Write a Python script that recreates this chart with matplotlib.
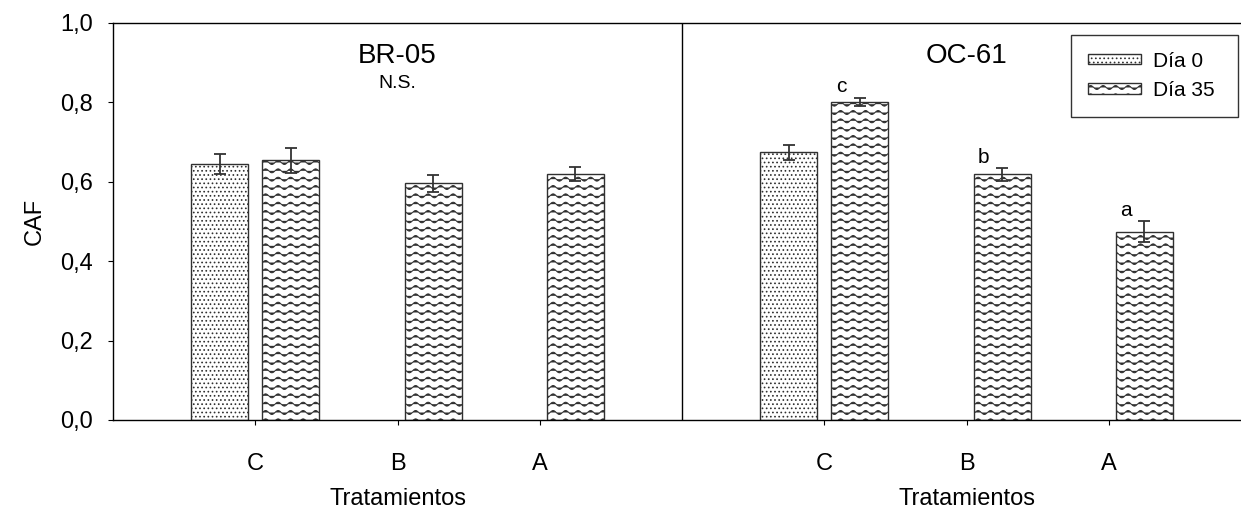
import warnings
import numpy as np
import matplotlib
matplotlib.use('Agg')
import matplotlib.pyplot as plt
import matplotlib.hatch as mhatch
from matplotlib.path import Path
from matplotlib.ticker import FuncFormatter
from matplotlib.transforms import blended_transform_factory

warnings.filterwarnings('ignore')

#~~~~~~~~~~~~~~~~~~~~~~~~~1. Data~~~~~~~~~~~~~~~~~~~~~~~~~~~~~~~~~~~~~~~~~~~~
tratamientos = ['C', 'B', 'A']
cultivares   = ['BR-05', 'OC-61']

br05_dia0    = [0.645]
br05_dia0_e  = [0.025]
br05_dia35   = [0.654, 0.596, 0.619]
br05_dia35_e = [0.032, 0.022, 0.017]

oc61_dia0    = [0.674]
oc61_dia0_e  = [0.019]
oc61_dia35   = [0.802, 0.619, 0.474]
oc61_dia35_e = [0.010, 0.016, 0.026]
oc61_letras  = ['c', 'b', 'a']
br05_nota    = 'N.S.'


#~~~~~~~~~~~~~~~~~~~~~~~~~2. Wave hatch ('~')~~~~~~~~~~~~~~~~~~~~~~~~~~~~~~~~~
class WaveHatch(mhatch.HatchPatternBase):
    npts = 97          # samples per row, 8 periods per unit cell

    def __init__(self, hatch, density):
        self.num_rows = 12 * hatch.count('~')
        self.num_vertices = self.num_rows * self.npts

    def set_vertices_and_codes(self, vertices, codes):
        x = np.linspace(0.0, 1.0, self.npts)
        y = 0.02 * np.sin(2 * np.pi * 8 * x)
        for i in range(self.num_rows):
            sl = slice(i * self.npts, (i + 1) * self.npts)
            vertices[sl, 0] = x
            vertices[sl, 1] = y + (i + 0.5) / self.num_rows
            codes[sl] = Path.LINETO
            codes[i * self.npts] = Path.MOVETO


mhatch._hatch_types.append(WaveHatch)

#~~~~~~~~~~~~~~~~~~~~~~~~~3. Plot~~~~~~~~~~~~~~~~~~~~~~~~~~~~~~~~~~~~~~~~~~~~
plt.rcParams['font.family'] = ['Liberation Sans', 'DejaVu Sans']
plt.rcParams['hatch.linewidth'] = 0.7

fig = plt.figure(figsize=(12.41, 5.13), dpi=100)
ax = fig.add_axes([0.0911, 0.1813, 0.917, 0.7739])

W = 0.4
D = 0.25
x_br = np.arange(1, 4)
x_oc = np.arange(5, 8)

bar_kw = dict(width=W, edgecolor='#303030', linewidth=1.0, color='white')
err_kw = dict(ecolor='#333333', elinewidth=1.3, capsize=4, capthick=1.3)

ax.bar(x_br[:1] - D, br05_dia0, hatch='....', yerr=br05_dia0_e,
       error_kw=err_kw, label='Día 0', **bar_kw)
ax.bar(x_br + D, br05_dia35, hatch='~', yerr=br05_dia35_e,
       error_kw=err_kw, label='Día 35', **bar_kw)
ax.bar(x_oc[:1] - D, oc61_dia0, hatch='....', yerr=oc61_dia0_e,
       error_kw=err_kw, **bar_kw)
ax.bar(x_oc + D, oc61_dia35, hatch='~', yerr=oc61_dia35_e,
       error_kw=err_kw, **bar_kw)

for xi, v, e, t in zip(x_oc + D, oc61_dia35, oc61_dia35_e, oc61_letras):
    ax.text(xi - 0.13, v + e + 0.003, t, ha='center', va='bottom', fontsize=15)

ax.axvline(4, color='black', lw=1.0)

ax.set_xlim(0, 8)
ax.set_ylim(0, 1.0)
ax.set_xticks(np.concatenate([x_br, x_oc]))
ax.set_xticklabels(tratamientos * 2, fontsize=17)
ax.set_yticks(np.arange(0, 1.01, 0.2))
ax.yaxis.set_major_formatter(FuncFormatter(lambda v, p: f'{v:.1f}'.replace('.', ',')))
ax.tick_params(axis='y', labelsize=17, direction='out', length=3.6, pad=11)
ax.tick_params(axis='x', direction='out', length=3.6, pad=20)
ax.spines['right'].set_visible(False)
for s in ['left', 'top', 'bottom']:
    ax.spines[s].set_linewidth(1.0)
fig.text(35 / 1241, 0.568, 'CAF', rotation=90, ha='center', va='center', fontsize=17)

trans = blended_transform_factory(ax.transData, ax.transAxes)
for xc, name in zip([2, 6], cultivares):
    ax.text(xc, 0.950, name, transform=trans, ha='center', va='top', fontsize=20)
    ax.text(xc, -0.2, 'Tratamientos', transform=trans, ha='center', va='center', fontsize=17)
ax.text(2, 0.848, br05_nota, transform=trans, ha='center', va='center', fontsize=14)

leg = ax.legend(loc='upper left',
                bbox_to_anchor=(1071 / 1241, 478 / 513 - 0.01, 167 / 1241, 0.01),
                bbox_transform=fig.transFigure, mode='expand', fontsize=15, frameon=True,
                fancybox=False, edgecolor='black', handlelength=2.55,
                handleheight=0.4, handletextpad=0.6, borderpad=0.8, labelspacing=0.5,
                borderaxespad=0)
leg.get_frame().set_linewidth(1.0)

plt.savefig('out.png', dpi=100)
